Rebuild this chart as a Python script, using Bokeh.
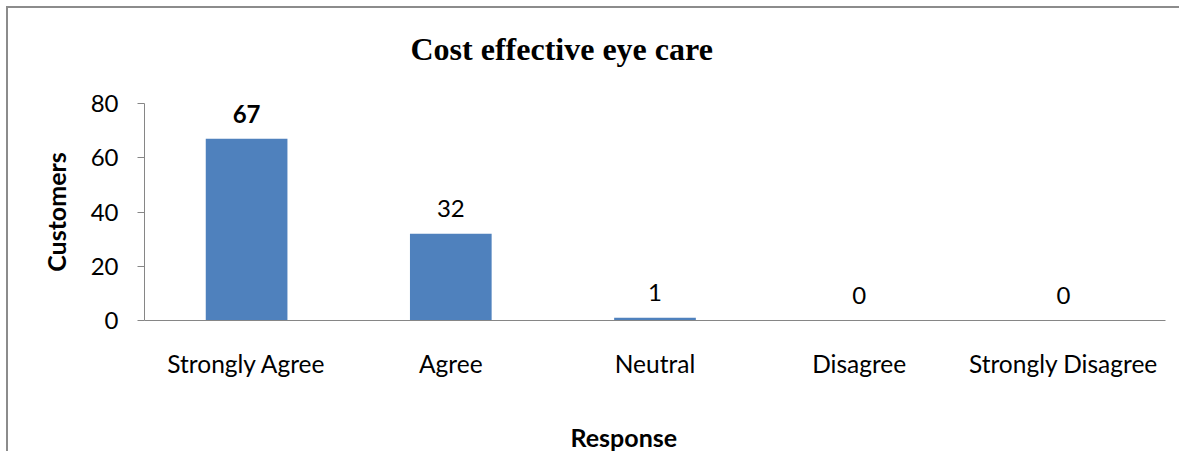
from bokeh.plotting import figure
from bokeh.models import ColumnDataSource, FixedTicker, Title, InlineStyleSheet
from bokeh.core.properties import value
from bokeh.embed import file_html
from bokeh.resources import INLINE

categories = ["Strongly Agree", "Agree", "Neutral", "Disagree", "Strongly Disagree"]
customers = [67, 32, 1, 0, 0]
label_styles = ["bold", "normal", "normal", "normal", "normal"]
y_ticks = [0, 20, 40, 60, 80]

BAR = "#4F81BD"
AXIS = "#868686"
FONT = "Lato"

src = ColumnDataSource(dict(cat=categories, val=customers,
                            txt=[str(v) for v in customers], fs=label_styles))

p = figure(x_range=categories, y_range=(0, 80), width=1179, height=451,
           output_backend="svg", toolbar_location=None,
           min_border_left=144, min_border_right=14, min_border_top=103, min_border_bottom=128)
p.stylesheets = [InlineStyleSheet(css=(
    ":host { background: "
    "linear-gradient(#8c8c8c, #8c8c8c) 6px 6px / 2px calc(100% - 6px) no-repeat, "
    "linear-gradient(#8c8c8c, #8c8c8c) 6px 6px / calc(100% - 6px) 2px no-repeat, white; }"))]
p.border_fill_color = None
p.outline_line_color = None
p.grid.visible = False
p.x_range.range_padding = 0

p.vbar(x="cat", top="val", width=0.4, source=src, fill_color=BAR, line_color=None)
p.text(x="cat", y="val", text="txt", source=src, text_font=value(FONT), text_font_size="24px",
       text_font_style="fs", text_align="center", text_baseline="middle",
       y_offset=-25, text_color="black")

ya = p.yaxis[0]
ya.ticker = FixedTicker(ticks=y_ticks)
ya.axis_line_color = AXIS
ya.major_tick_line_color = AXIS
ya.major_tick_out = 7
ya.major_tick_in = 0
ya.minor_tick_line_color = None
ya.major_label_text_font = FONT
ya.major_label_text_font_size = "24px"
ya.major_label_text_color = "black"
ya.major_label_standoff = 19
ya.axis_label = "Customers"
ya.axis_label_text_font = FONT
ya.axis_label_text_font_size = "25px"
ya.axis_label_text_font_style = "bold"
ya.axis_label_text_color = "black"
ya.axis_label_standoff = 17

xa = p.xaxis[0]
xa.axis_line_color = AXIS
xa.major_tick_line_color = None
xa.major_tick_out = 0
xa.major_tick_in = 0
xa.minor_tick_line_color = None
xa.major_label_text_font = FONT
xa.major_label_text_font_size = "24.5px"
xa.major_label_text_color = "black"
xa.major_label_standoff = 28

p.title = Title(text="Cost effective eye care", align="left", offset=266, standoff=0,
                padding=dict(left=0, right=0, top=0, bottom=37),
                text_font="Liberation Serif", text_font_size="32px", text_font_style="bold",
                text_color="black")
p.add_layout(Title(text="Response", align="left", offset=426, standoff=0,
                   padding=dict(left=0, right=0, top=39, bottom=0),
                   text_font=FONT, text_font_size="25px", text_font_style="bold",
                   text_color="black"), "below")

open("out.html", "w").write(file_html(p, INLINE))
